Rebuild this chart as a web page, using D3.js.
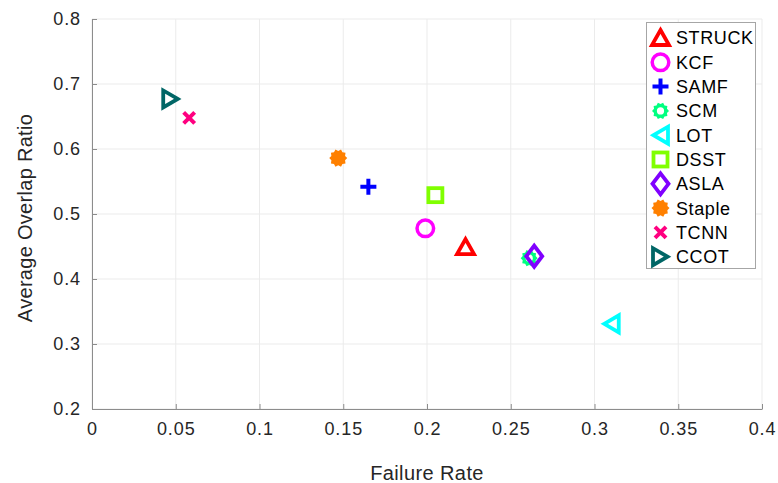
<!DOCTYPE html>
<html>
<head>
<meta charset="utf-8">
<script src="https://cdn.jsdelivr.net/npm/d3@7"></script>
<style>
  html, body { margin: 0; padding: 0; background: #fff; }
  svg text { font-family: "Liberation Sans", Arial, Helvetica, sans-serif; }
</style>
</head>
<body>
<svg id="chart" width="778" height="483"></svg>
<script>
// Trackers compared by failure rate vs. average overlap ratio
const trackers = ["STRUCK", "KCF", "SAMF", "SCM", "LOT", "DSST", "ASLA", "Staple", "TCNN", "CCOT"];
const failureRate = [0.223, 0.199, 0.165, 0.261, 0.310, 0.205, 0.264, 0.147, 0.058, 0.047];
const overlapRatio = [0.449, 0.478, 0.542, 0.432, 0.331, 0.529, 0.435, 0.586, 0.648, 0.677];
const markerShapes = ["triangleUp", "circle", "plus", "gearRing", "triangleLeft", "square", "diamond", "gearFilled", "cross", "triangleRight"];
const markerColors = ["#ff0000", "#ff00ff", "#0000ff", "#00ff80", "#00ffff", "#80ff00", "#8000ff", "#ff8000", "#ff0080", "#006666"];

const xTicks = [0, 0.05, 0.1, 0.15, 0.2, 0.25, 0.3, 0.35, 0.4];
const yTicks = [0.2, 0.3, 0.4, 0.5, 0.6, 0.7, 0.8];

const svg = d3.select("#chart");
const plot = { left: 92, right: 762, top: 19, bottom: 409 };

const x = d3.scaleLinear().domain([0, 0.4]).range([plot.left, plot.right]);
const y = d3.scaleLinear().domain([0.2, 0.8]).range([plot.bottom, plot.top]);

// grid
const grid = svg.append("g");
grid.selectAll("line.gx").data(xTicks).join("line")
  .attr("x1", d => x(d)).attr("x2", d => x(d))
  .attr("y1", plot.top).attr("y2", plot.bottom)
  .attr("stroke", "#ebebeb").attr("stroke-width", 1);
grid.selectAll("line.gy").data(yTicks).join("line")
  .attr("y1", d => y(d)).attr("y2", d => y(d))
  .attr("x1", plot.left).attr("x2", plot.right)
  .attr("stroke", "#ebebeb").attr("stroke-width", 1);

// axes with inward ticks
const xAxis = d3.axisBottom(x).tickValues(xTicks).tickSizeInner(-5).tickSizeOuter(0)
  .tickPadding(13).tickFormat(d3.format("~g"));
const yAxis = d3.axisLeft(y).tickValues(yTicks).tickSizeInner(-5).tickSizeOuter(0)
  .tickPadding(11).tickFormat(d3.format("~g"));

const gx = svg.append("g").attr("transform", `translate(0,${plot.bottom})`).call(xAxis);
const gy = svg.append("g").attr("transform", `translate(${plot.left},0)`).call(yAxis);
[gx, gy].forEach(g => {
  g.select(".domain").attr("stroke", "#8c8c8c");
  g.selectAll(".tick line").attr("stroke", "#8c8c8c");
  g.selectAll(".tick text").attr("fill", "#262626").style("font-size", "18px")
    .style("letter-spacing", "0.9px")
    .style("font-family", "'Liberation Sans', Arial, sans-serif");
});

// axis titles
svg.append("text").attr("x", (plot.left + plot.right) / 2).attr("y", 480)
  .attr("text-anchor", "middle").attr("fill", "#262626").style("font-size", "20px")
  .style("letter-spacing", "0.4px")
  .text("Failure Rate");
svg.append("text").attr("transform", `translate(32,${(plot.top + plot.bottom) / 2 + 4}) rotate(-90)`)
  .attr("text-anchor", "middle").attr("fill", "#262626").style("font-size", "20px")
  .style("letter-spacing", "0.3px")
  .text("Average Overlap Ratio");

// marker geometry
function gearPath(rOuter, rInner, teeth) {
  const pts = [];
  const n = teeth * 2;
  for (let i = 0; i < n; i++) {
    const a = (i / n) * Math.PI * 2;
    const r = i % 2 === 0 ? rOuter : rInner;
    pts.push([Math.cos(a) * r, Math.sin(a) * r]);
  }
  return "M" + pts.map(p => p.join(",")).join("L") + "Z";
}

function drawMarker(g, shape, color) {
  switch (shape) {
    case "triangleUp":
      g.append("path").attr("d", "M0,-8 L8.5,7 L-8.5,7 Z")
        .attr("fill", "none").attr("stroke", color).attr("stroke-width", 3.8).attr("stroke-linejoin", "miter");
      break;
    case "triangleLeft":
      g.append("path").attr("d", "M-7,0 L7.5,-8.5 L7.5,8.5 Z")
        .attr("fill", "none").attr("stroke", color).attr("stroke-width", 3.8);
      break;
    case "triangleRight":
      g.append("path").attr("d", "M7,0 L-7.5,-8.5 L-7.5,8.5 Z")
        .attr("fill", "none").attr("stroke", color).attr("stroke-width", 3.8);
      break;
    case "circle":
      g.append("circle").attr("r", 8.3)
        .attr("fill", "none").attr("stroke", color).attr("stroke-width", 3.5);
      break;
    case "square":
      g.append("rect").attr("x", -7).attr("y", -7).attr("width", 14).attr("height", 14)
        .attr("fill", "none").attr("stroke", color).attr("stroke-width", 3.8);
      break;
    case "diamond":
      g.append("path").attr("d", "M0,-10.5 L8,0 L0,10.5 L-8,0 Z")
        .attr("fill", "none").attr("stroke", color).attr("stroke-width", 3.8);
      break;
    case "plus":
      g.append("path").attr("d", "M-8,0 L8,0 M0,-8 L0,8")
        .attr("fill", "none").attr("stroke", color).attr("stroke-width", 4);
      break;
    case "cross":
      g.append("path").attr("d", "M-5.5,-5.5 L5.5,5.5 M-5.5,5.5 L5.5,-5.5")
        .attr("fill", "none").attr("stroke", color).attr("stroke-width", 4);
      break;
    case "gearRing":
      g.append("path").attr("d", gearPath(8.5, 6.8, 10))
        .attr("fill", color);
      g.append("circle").attr("r", 3.6).attr("fill", "#fff");
      break;
    case "gearFilled":
      g.append("path").attr("d", gearPath(9, 7.2, 10))
        .attr("fill", color);
      break;
  }
}

// data markers
const pts = svg.append("g");
trackers.forEach((name, i) => {
  const g = pts.append("g")
    .attr("transform", `translate(${x(failureRate[i])},${y(overlapRatio[i])})`);
  drawMarker(g, markerShapes[i], markerColors[i]);
});

// legend
const legend = svg.append("g");
legend.append("rect").attr("x", 646.5).attr("y", 22.5).attr("width", 109).attr("height", 246)
  .attr("fill", "#fff").attr("stroke", "#a6a6a6").attr("stroke-width", 1);
trackers.forEach((name, i) => {
  const cy = 38 + i * 24.3;
  const g = legend.append("g").attr("transform", `translate(660.5,${cy})`);
  drawMarker(g, markerShapes[i], markerColors[i]);
  legend.append("text").attr("x", 676).attr("y", cy).attr("dy", "0.36em")
    .attr("fill", "#000").style("font-size", "18px").style("letter-spacing", "0.6px").text(name);
});
</script>
</body>
</html>
